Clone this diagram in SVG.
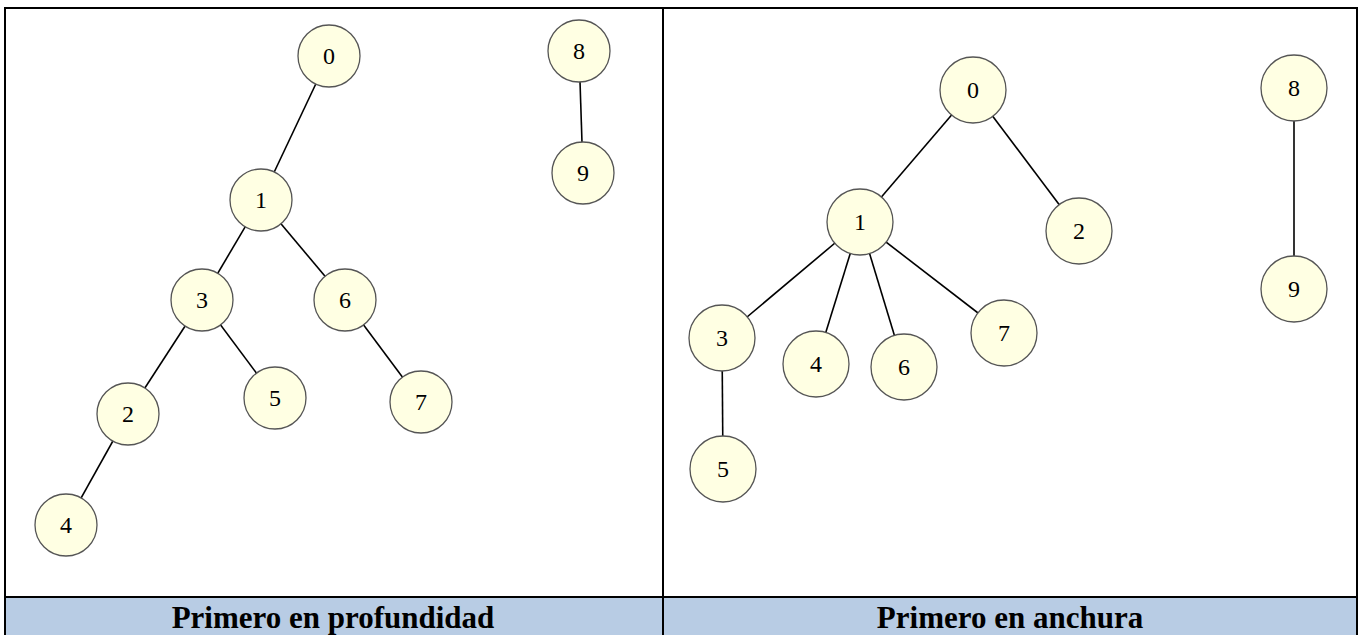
<svg xmlns="http://www.w3.org/2000/svg" width="1359" height="635" viewBox="0 0 1359 635">
<style>
.e{stroke:#000;stroke-width:1.6;fill:none}
.n circle{fill:#FFFFE3;stroke:#555;stroke-width:1.3}
.n text{font-family:"Liberation Serif",serif;font-size:24px;text-anchor:middle;fill:#000}
.h{font-family:"Liberation Serif",serif;font-size:31px;font-weight:bold;text-anchor:middle;fill:#000}
.b{stroke:#000;stroke-width:2;fill:none}
</style>
<rect x="0" y="0" width="1359" height="635" fill="#fff"/>
<g id="table">
<rect x="5" y="598" width="1352" height="37" fill="#B8CCE4"/>
<line class="b" x1="4" y1="8" x2="1357" y2="8"/>
<line class="b" x1="4" y1="597" x2="1357" y2="597"/>
<line class="b" x1="5" y1="7" x2="5" y2="635"/>
<line class="b" x1="663" y1="7" x2="663" y2="635"/>
<line class="b" x1="1357" y1="7" x2="1357" y2="635"/>
<text class="h" x="333" y="628">Primero en profundidad</text>
<text class="h" x="1010" y="628">Primero en anchura</text>
</g>
<g id="connectors">
<line class="e" x1="329" y1="56" x2="261" y2="200"/>
<line class="e" x1="261" y1="200" x2="202" y2="300"/>
<line class="e" x1="261" y1="200" x2="345" y2="300"/>
<line class="e" x1="202" y1="300" x2="128" y2="414"/>
<line class="e" x1="202" y1="300" x2="275" y2="398"/>
<line class="e" x1="345" y1="300" x2="421" y2="402"/>
<line class="e" x1="128" y1="414" x2="66" y2="525"/>
<line class="e" x1="579" y1="51" x2="583" y2="173"/>
<line class="e" x1="973" y1="90" x2="860" y2="222"/>
<line class="e" x1="973" y1="90" x2="1079" y2="231"/>
<line class="e" x1="860" y1="222" x2="722" y2="338"/>
<line class="e" x1="860" y1="222" x2="816" y2="364"/>
<line class="e" x1="860" y1="222" x2="904" y2="367"/>
<line class="e" x1="860" y1="222" x2="1004" y2="333"/>
<line class="e" x1="722" y1="338" x2="723" y2="469"/>
<line class="e" x1="1294" y1="88" x2="1294" y2="289"/>
</g>
<g id="L0" class="n"><circle cx="329" cy="56" r="31"/><text x="329" y="64">0</text></g>
<g id="L8" class="n"><circle cx="579" cy="51" r="31"/><text x="579" y="59">8</text></g>
<g id="L9" class="n"><circle cx="583" cy="173" r="31"/><text x="583" y="181">9</text></g>
<g id="L1" class="n"><circle cx="261" cy="200" r="31"/><text x="261" y="208">1</text></g>
<g id="L3" class="n"><circle cx="202" cy="300" r="31"/><text x="202" y="308">3</text></g>
<g id="L6" class="n"><circle cx="345" cy="300" r="31"/><text x="345" y="308">6</text></g>
<g id="L2" class="n"><circle cx="128" cy="414" r="31"/><text x="128" y="422">2</text></g>
<g id="L5" class="n"><circle cx="275" cy="398" r="31"/><text x="275" y="406">5</text></g>
<g id="L7" class="n"><circle cx="421" cy="402" r="31"/><text x="421" y="410">7</text></g>
<g id="L4" class="n"><circle cx="66" cy="525" r="31"/><text x="66" y="533">4</text></g>
<g id="R0" class="n"><circle cx="973" cy="90" r="33"/><text x="973" y="98">0</text></g>
<g id="R8" class="n"><circle cx="1294" cy="88" r="33"/><text x="1294" y="96">8</text></g>
<g id="R1" class="n"><circle cx="860" cy="222" r="33"/><text x="860" y="230">1</text></g>
<g id="R2" class="n"><circle cx="1079" cy="231" r="33"/><text x="1079" y="239">2</text></g>
<g id="R9" class="n"><circle cx="1294" cy="289" r="33"/><text x="1294" y="297">9</text></g>
<g id="R3" class="n"><circle cx="722" cy="338" r="33"/><text x="722" y="346">3</text></g>
<g id="R4" class="n"><circle cx="816" cy="364" r="33"/><text x="816" y="372">4</text></g>
<g id="R6" class="n"><circle cx="904" cy="367" r="33"/><text x="904" y="375">6</text></g>
<g id="R7" class="n"><circle cx="1004" cy="333" r="33"/><text x="1004" y="341">7</text></g>
<g id="R5" class="n"><circle cx="723" cy="469" r="33"/><text x="723" y="477">5</text></g>
</svg>
